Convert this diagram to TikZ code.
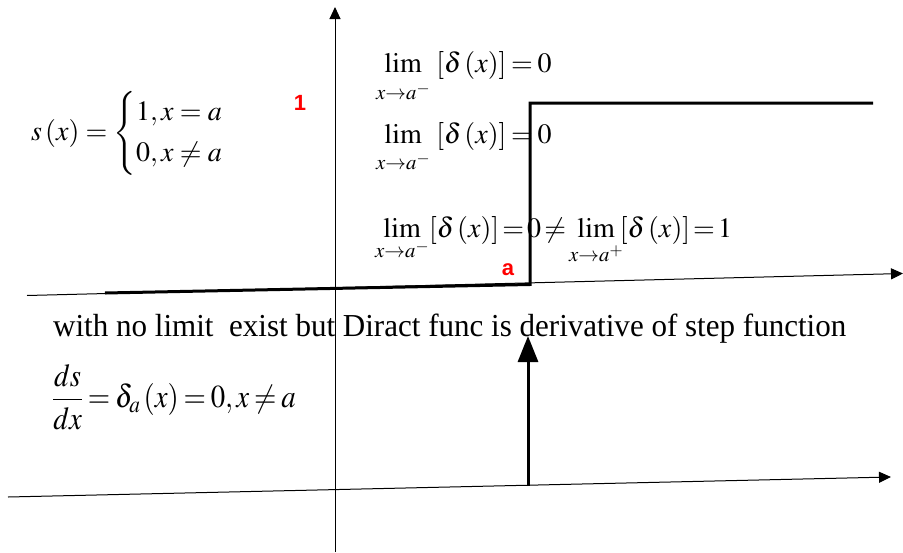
\documentclass[tikz,border=0pt]{standalone}
\usepackage{amsmath}
\usepackage{mathptmx}
\usepackage[no-math]{fontspec}
\setmainfont{Liberation Serif}
\newfontfamily\redsans{Liberation Sans}
\usetikzlibrary{arrows.meta}
\tikzset{
  axis/.style={line width=1pt,-{Triangle[length=12pt,width=11pt]}},
  thick step/.style={line width=3pt,line join=miter},
  dirac/.style={line width=3pt,-{Triangle[length=26pt,width=20pt]}},
  redlabel/.style={text=red,font=\redsans\bfseries\fontsize{22}{26}\selectfont,inner sep=0pt},
  mathtext/.style={font=\fontsize{28}{34}\selectfont,inner sep=0pt},
  plaintext/.style={font=\fontsize{32}{38}\selectfont,inner sep=0pt},
}
\newcommand{\limsub}[2]{\lim\limits_{\rule{0pt}{#1}#2}}
\begin{document}
\begin{tikzpicture}[x=1pt,y=-1pt]
\useasboundingbox (0,0) rectangle (903,552);
% axes
\coordinate (vb) at (335,552);
\coordinate (vt) at (335,7);
\draw[axis] (vb) -- (vt);
\coordinate (t1) at (27,295.5);
\coordinate (t2) at (903,273.5);
\draw[axis] (t1) -- (t2);
\coordinate (b1) at (8,497);
\coordinate (b2) at (891,477);
\draw[axis] (b1) -- (b2);
% step function
\coordinate (s1) at (105,293);
\coordinate (s2) at (530,284.5);
\coordinate (s3) at (530,103);
\coordinate (s4) at (873,103);
\draw[thick step] (s1) -- (s2) -- (s3) -- (s4);
% dirac
\coordinate (d1) at (528,486);
\coordinate (d2) at (528,336);
\draw[dirac] (d1) -- (d2);
% labels
\node[redlabel] (one) at (300,103) {1};
\node[redlabel] (alab) at (508,270) {a};
\node[mathtext,anchor=west] (sdef) at (31,133)
  {$s\left(x\right)=\renewcommand\arraystretch{1.7}\begin{cases}1, x=a\\0, x\neq a\end{cases}$};
\node[mathtext,anchor=base west] (lim1) at (376,72)
  {$\thickmuskip=3mu\limsub{23pt}{x\to a^-}\,\left[\delta\left(x\right)\right]=0$};
\node[mathtext,anchor=base west] (lim2) at (376,143)
  {$\thickmuskip=3mu\limsub{22pt}{x\to a^-}\,\left[\delta\left(x\right)\right]=0$};
\node[mathtext,anchor=base west] (lim3) at (375,237)
  {$\thickmuskip=2mu\limsub{12pt}{x\to a^-}\!\left[\delta\left(x\right)\right]=0\neq\limsub{20pt}{x\to a^+}\!\!\left[\delta\left(x\right)\right]=1$};
\node[plaintext,anchor=base west] (txt) at (53,336)
  {\scalebox{0.97}[1]{with no limit\ \ exist but Diract func is derivative of step function}};
\node[anchor=west,inner sep=0pt,font=\fontsize{32}{38}\selectfont] (deriv) at (52,397)
  {\scalebox{0.9}[1]{$\thickmuskip=3mu\displaystyle\frac{ds}{dx}=\delta_a\left(x\right)=0, x\neq a$}};
\end{tikzpicture}
\end{document}
